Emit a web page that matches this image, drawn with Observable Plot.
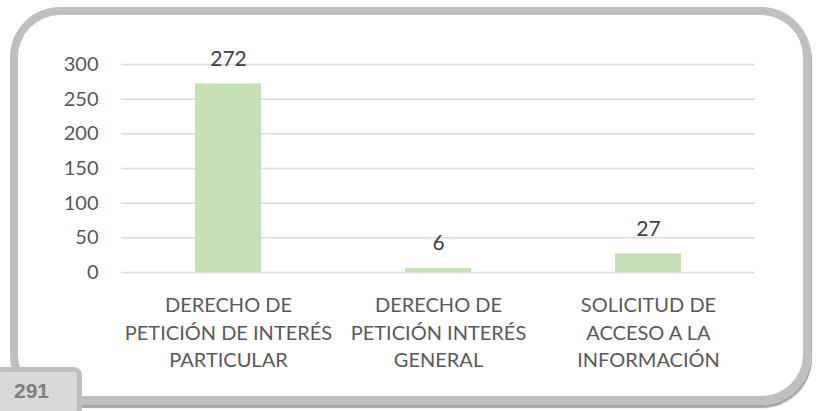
<!DOCTYPE html>
<html><head><meta charset="utf-8">
<script src="https://cdn.jsdelivr.net/npm/d3@7"></script>
<script src="https://cdn.jsdelivr.net/npm/@observablehq/plot@0.6"></script>
<style>
body{margin:0;background:#fff;}
#wrap{position:relative;width:817px;height:411px;overflow:hidden;font-family:Lato,"Open Sans",sans-serif;}
#frame{position:absolute;left:10px;top:7px;width:785px;height:381px;border:8px solid #bfbfbf;border-bottom-width:9px;border-radius:50px;box-sizing:content-box;box-shadow:1px 3px 1px #a6a6a6;}
#tab{position:absolute;left:-6px;top:367px;width:88px;height:50px;background:#d9d9d9;border:5px solid #bfbfbf;border-radius:8px;box-sizing:border-box;font:bold 21px "Liberation Sans",Arial,sans-serif;color:#7f7f7f;padding:7px 0 0 15px;line-height:1.1;}
#chart{position:absolute;left:0;top:0;}
</style></head><body>
<div id="wrap"><div id="frame"></div><div id="chart"></div><div id="tab">291</div></div>
<script>
const categories = ["DERECHO DE\nPETICIÓN DE INTERÉS\nPARTICULAR","DERECHO DE\nPETICIÓN INTERÉS\nGENERAL","SOLICITUD DE\nACCESO A LA\nINFORMACIÓN"];
const values = [272, 6, 27];
const yTicks = [0,50,100,150,200,250,300];
const data = categories.map((c,i)=>({cat:c, value:values[i]}));
const chart = Plot.plot({
  width: 817, height: 411,
  marginLeft: 121, marginRight: 62, marginTop: 64, marginBottom: 139,
  style:{fontFamily:"Lato, 'Open Sans', sans-serif", color:"#595959", background:"transparent"},
  x:{domain:categories, paddingInner:0.687, paddingOuter:0.346, label:null},
  y:{domain:[0,300], label:null},
  marks:[
    Plot.gridY(yTicks,{stroke:"#d9d9d9", strokeOpacity:1, strokeWidth:1.5}),
    Plot.axisY(yTicks,{tickSize:0, tickPadding:23, fontSize:20, fill:"#595959", label:null}),
    Plot.barY(data,{x:"cat", y:"value", fill:"#c5e0b4"}),
    Plot.axisX({tickSize:0, tickPadding:20, fontSize:20, lineHeight:1.38, fill:"#595959", label:null}),
    Plot.text(data,{x:"cat", y:"value", text:d=>String(d.value), dy:-25, fontSize:21, fill:"#404040"})
  ]
});
document.getElementById("chart").appendChild(chart);
</script></body></html>
